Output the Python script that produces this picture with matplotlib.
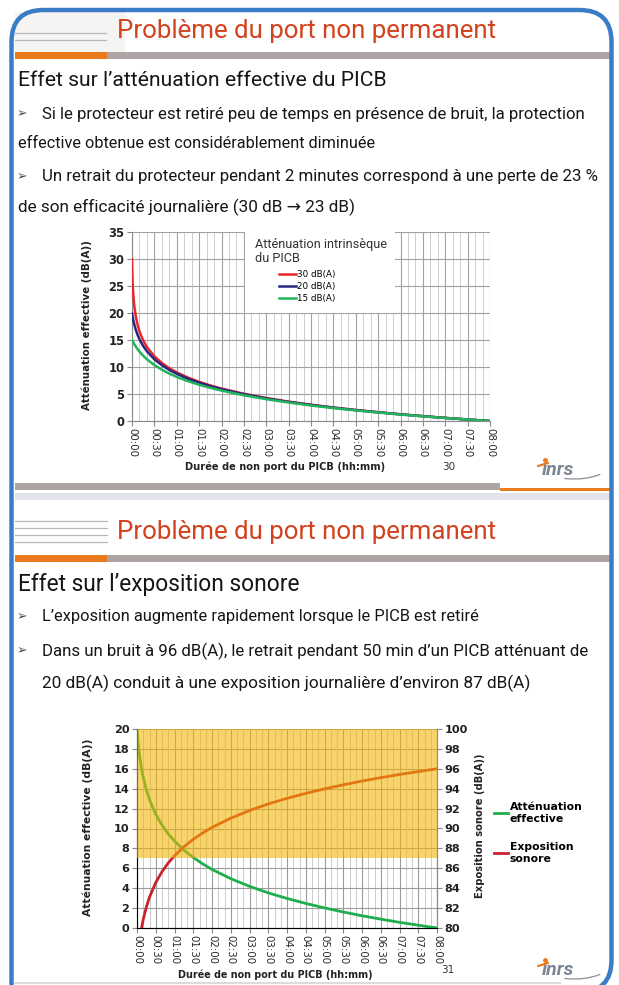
import matplotlib
matplotlib.use('Agg')
import matplotlib.pyplot as plt
from matplotlib.patches import Rectangle, Arc, PathPatch
from matplotlib.path import Path

# ---------------- data ----------------
minutes = [0, 0.5, 1, 2, 3, 5, 7.5, 10, 15, 20, 30, 40, 50, 60, 75, 90, 105, 120,
           150, 180, 210, 240, 270, 300, 330, 360, 390, 420, 450, 480]
att_30 = [30, 26.90, 25.11, 22.87, 21.40, 19.43, 17.80, 16.61, 14.92, 13.70, 11.98, 10.74,
          9.79, 9.00, 8.04, 7.25, 6.59, 6.01, 5.04, 4.25, 3.58, 3.01, 2.50, 2.04, 1.63,
          1.25, 0.90, 0.58, 0.28, 0]
att_20 = [20, 19.57, 19.19, 18.50, 17.91, 16.92, 15.94, 15.14, 13.88, 12.90, 11.43, 10.34,
          9.46, 8.74, 7.83, 7.09, 6.45, 5.89, 4.96, 4.19, 3.53, 2.97, 2.47, 2.02, 1.61,
          1.23, 0.89, 0.57, 0.28, 0]
att_15 = [15, 14.86, 14.73, 14.48, 14.24, 13.80, 13.30, 12.86, 12.08, 11.43, 10.36, 9.50,
          8.78, 8.16, 7.38, 6.71, 6.14, 5.63, 4.76, 4.04, 3.42, 2.87, 2.39, 1.96, 1.57,
          1.20, 0.87, 0.56, 0.27, 0]
att_eff = [20, 19.57, 19.19, 18.50, 17.91, 16.92, 15.94, 15.14, 13.88, 12.90, 11.43, 10.34,
           9.46, 8.74, 7.83, 7.09, 6.45, 5.89, 4.96, 4.19, 3.53, 2.97, 2.47, 2.02, 1.61,
           1.23, 0.89, 0.57, 0.28, 0]
expo_96 = [76.00, 76.43, 76.81, 77.50, 78.09, 79.08, 80.06, 80.86, 82.12, 83.10, 84.57,
           85.66, 86.54, 87.26, 88.17, 88.91, 89.55, 90.11, 91.04, 91.81, 92.47, 93.03,
           93.53, 93.98, 94.39, 94.77, 95.11, 95.43, 95.72, 96.00]
expo_threshold = 87
labels_1 = ['30 dB(A)', '20 dB(A)', '15 dB(A)']
labels_2 = ['Atténuation\neffective', 'Exposition\nsonore']
time_labels = ['00:00', '00:30', '01:00', '01:30', '02:00', '02:30', '03:00', '03:30',
               '04:00', '04:30', '05:00', '05:30', '06:00', '06:30', '07:00', '07:30', '08:00']
yticks_1 = [0, 5, 10, 15, 20, 25, 30, 35]
yticks_2 = [0, 2, 4, 6, 8, 10, 12, 14, 16, 18, 20]
yticks_2r = [80, 82, 84, 86, 88, 90, 92, 94, 96, 98, 100]
time_ticks = [int(s[:2]) * 60 + int(s[3:]) for s in time_labels]

# ---------------- figure / helpers ----------------
W, H = 619, 985
fig = plt.figure(figsize=(W / 100, H / 100), dpi=100)
fig.patch.set_facecolor('white')
bg = fig.add_axes([0, 0, 1, 1], zorder=0)
bg.set_xlim(0, W)
bg.set_ylim(H, 0)
bg.axis('off')
R = fig.canvas.get_renderer()

BODY = ['Roboto', 'DejaVu Sans']
CH = ['DejaVu Sans']


def rect(l, t, r, b):
    return [l / W, 1 - b / H, (r - l) / W, (b - t) / H]


def fit(t, size, dim='w'):
    bb = t.get_window_extent(R)
    cur = bb.width if dim == 'w' else bb.height
    t.set_fontsize(t.get_fontsize() * size / cur)
    return t


def say(x, y, s, width, **kw):
    kw.setdefault('family', BODY)
    kw.setdefault('color', '#161616')
    t = bg.text(x, y, s, ha='left', va='center', fontsize=12, **kw)
    return fit(t, width)


def arrow(y):
    bg.text(22, y, '\u27a2', family='DejaVu Sans', fontsize=9, color='#4a4a4a',
            ha='center', va='center')


def logo(x, y):
    bg.text(x, y, 'ınrs', family=BODY, fontsize=14, fontweight='bold', style='italic',
            color='#7d8594', ha='left', va='center')
    bg.plot([x - 4, x + 6], [y - 4, y - 7], color='#ea7a1c', lw=1.6, solid_capstyle='round')
    bg.plot([x + 3], [y - 10], marker='o', ms=2.5, color='#ea7a1c')
    bg.add_patch(Arc((x + 32, y - 8), 76, 34, theta1=25, theta2=120,
                     color='#8a8f99', lw=0.9))


# ---------------- slide 1 decoration ----------------
bg.add_patch(Rectangle((15, 12), 110, 40, color='#f6f3f3', lw=0))
for yy in (33, 40):
    bg.plot([15, 106], [yy, yy], color='#b8b8b8', lw=0.9)
bg.add_patch(Rectangle((15, 52), 92, 7, color='#ea7a1c', lw=0))
bg.add_patch(Rectangle((107, 52), 505, 7, color='#aea4a4', lw=0))

say(117, 31, 'Problème du port non permanent', 378, color='#d3421d')
say(18, 81, 'Effet sur l’atténuation effective du PICB', 367)
arrow(114)
say(42, 114, 'Si le protecteur est retiré peu de temps en présence de bruit, la protection', 541)
say(18, 144, 'effective obtenue est considérablement diminuée', 357)
arrow(177)
say(42, 177, 'Un retrait du protecteur pendant 2 minutes correspond à une perte de 23 %', 555)
say(18, 207, 'de son efficacité journalière (30 dB \u2192 23 dB)', 337)

# slide 1 footer
bg.add_patch(Rectangle((15, 483), 485, 7, color='#aea4a4', lw=0))
bg.add_patch(Rectangle((500, 488), 112, 3, color='#ea7a1c', lw=0))
bg.add_patch(Rectangle((15, 493), 597, 7, color='#e3e3ea', lw=0))
bg.text(449, 467, '30', family=CH, fontsize=7.5, color='#333333', ha='center', va='center')
logo(542, 470)

# ---------------- slide 2 decoration ----------------
for yy in (521, 528, 535, 542):
    bg.plot([15, 107], [yy, yy], color='#b8b8b8', lw=0.9)
bg.add_patch(Rectangle((15, 555), 92, 7, color='#ea7a1c', lw=0))
bg.add_patch(Rectangle((107, 555), 505, 7, color='#aea4a4', lw=0))

say(117, 532, 'Problème du port non permanent', 378, color='#d3421d')
say(18, 585, 'Effet sur l’exposition sonore', 282)
arrow(617)
say(42, 617, 'L’exposition augmente rapidement lorsque le PICB est retiré', 435)
arrow(651)
say(42, 651, 'Dans un bruit à 96 dB(A), le retrait pendant 50 min d’un PICB atténuant de', 547)
say(42, 683, '20 dB(A) conduit à une exposition journalière d’environ 87 dB(A)', 488)
bg.text(448, 970, '31', family=CH, fontsize=7.5, color='#333333', ha='center', va='center')
logo(542, 970)
bg.plot([15, 560], [983, 983], color='#d6d6d6', lw=1.2)

# ---------------- chart 1 ----------------
ax1 = fig.add_axes(rect(132, 232, 490, 421), zorder=2)
ax1.set_facecolor('none')
for vals, col, lab in zip([att_30, att_20, att_15], ['#e8262b', '#27277f', '#22b45a'], labels_1):
    ax1.plot(minutes, vals, color=col, lw=1.8, label=lab, zorder=3)
ax1.set_xlim(0, 480)
ax1.set_ylim(0, 35)
ax1.set_xticks(time_ticks)
ax1.set_xticklabels(time_labels, rotation=270, ha='center', va='top',
                    fontsize=7.4, color='#2a2a2a', family=CH)
ax1.set_xticks(range(0, 481, 10), minor=True)
ax1.set_yticks(yticks_1)
ax1.set_yticklabels([str(v) for v in yticks_1], fontsize=8.3, fontweight='bold',
                    color='#222222', family=CH)
ax1.tick_params(axis='both', which='major', length=3.5, width=0.8, color='#8a8a8a', pad=2)
ax1.tick_params(axis='x', which='major', pad=1.5)
ax1.tick_params(axis='x', which='minor', length=0)
ax1.set_axisbelow(True)
ax1.grid(True, which='major', color='#a2a2a2', lw=0.8)
ax1.grid(True, which='minor', axis='x', color='#c6c6c6', lw=0.6)
for s in ('top', 'right'):
    ax1.spines[s].set_visible(False)
for s in ('left', 'bottom'):
    ax1.spines[s].set_color('#8a8a8a')
    ax1.spines[s].set_linewidth(0.8)
ax1.add_patch(Rectangle(((245 - 132) / 358, (421 - 313) / 189), 150 / 358, 1 - (421 - 313) / 189,
                        transform=ax1.transAxes, facecolor='white', edgecolor='none', zorder=2.5))
t = ax1.text((255 - 132) / 358, (421 - 238) / 189, 'Atténuation intrinsèque\ndu PICB',
             transform=ax1.transAxes, ha='left', va='top', fontsize=8.5, color='#333333',
             family=BODY, zorder=4, linespacing=1.1)
fit(t, 130)
leg1 = ax1.legend(loc='upper left', bbox_to_anchor=((279 - 132) / 358, (421 - 270) / 189),
                  frameon=False, prop={'family': CH, 'size': 6.3}, handlelength=1.9,
                  handletextpad=0.2, labelspacing=0.35, borderpad=0, borderaxespad=0)
leg1.set_zorder(5)
ax1.set_ylabel('Atténuation effective (dB(A))', fontweight='bold', family=CH, color='#222222')
ax1.yaxis.set_label_coords((87 - 132) / 358, (421 - 325) / 189)
ax1.yaxis.label.set_va('center')
fit(ax1.yaxis.label, 170, 'h')
ax1.set_xlabel('Durée de non port du PICB (hh:mm)', fontweight='bold', family=CH, color='#222222')
ax1.xaxis.set_label_coords((285.5 - 132) / 358, (421 - 467) / 189)
ax1.xaxis.label.set_va('center')
fit(ax1.xaxis.label, 199)

# ---------------- chart 2 ----------------
ax2 = fig.add_axes(rect(137, 729, 437, 928), zorder=2)
ax2.set_facecolor('none')
g, = ax2.plot(minutes, att_eff, color='#1fae4c', lw=2, label=labels_2[0], zorder=3)
ax2.set_xlim(0, 480)
ax2.set_ylim(0, 20)
ax2.set_xticks(time_ticks)
ax2.set_xticklabels(time_labels, rotation=270, ha='center', va='top',
                    fontsize=7.4, color='#2a2a2a', family=CH)
ax2.set_xticks(range(0, 481, 10), minor=True)
ax2.set_yticks(yticks_2)
ax2.set_yticklabels([str(v) for v in yticks_2], fontsize=8.1, fontweight='bold',
                    color='#222222', family=CH)
ax2.tick_params(axis='both', which='major', length=3.5, width=0.8, color='#8a8a8a', pad=2)
ax2.tick_params(axis='x', which='major', pad=1.5)
ax2.tick_params(axis='x', which='minor', length=0)
ax2.set_axisbelow(True)
ax2.grid(True, which='major', color='#9c9c9c', lw=0.8)
ax2.grid(True, which='minor', axis='x', color='#c4c4c4', lw=0.6)
ax2.spines['top'].set_visible(False)
for s in ('left', 'bottom', 'right'):
    ax2.spines[s].set_color('#8a8a8a')
    ax2.spines[s].set_linewidth(0.8)

ax2r = ax2.twinx()
r, = ax2r.plot(minutes, expo_96, color='#c8232b', lw=2, label=labels_2[1], zorder=3)
ax2r.set_ylim(80, 100)
ax2r.set_yticks(yticks_2r)
ax2r.set_yticklabels([str(v) for v in yticks_2r], fontsize=8.1, fontweight='bold',
                     color='#222222', family=CH)
ax2r.tick_params(axis='y', length=3.5, width=0.8, color='#8a8a8a', pad=2)
ax2r.spines['top'].set_visible(False)
ax2r.spines['right'].set_color('#8a8a8a')
ax2r.spines['right'].set_linewidth(0.8)
ax2r.axhspan(expo_threshold, 100, facecolor='#f4b400', alpha=0.58, lw=0, zorder=5)

ax2.set_ylabel('Atténuation effective (dB(A))', fontweight='bold', family=CH, color='#222222')
ax2.yaxis.set_label_coords((88 - 137) / 300, (928 - 827) / 199)
ax2.yaxis.label.set_va('center')
fit(ax2.yaxis.label, 177, 'h')
ax2r.set_ylabel('Exposition sonore (dB(A))', fontweight='bold', family=CH, color='#222222',
                rotation=90)
ax2r.yaxis.set_label_coords((480 - 137) / 300, (928 - 826) / 199)
ax2r.yaxis.label.set_va('center')
fit(ax2r.yaxis.label, 146, 'h')
ax2.set_xlabel('Durée de non port du PICB (hh:mm)', fontweight='bold', family=CH, color='#222222')
ax2.xaxis.set_label_coords((275 - 137) / 300, (928 - 975) / 199)
ax2.xaxis.label.set_va('center')
fit(ax2.xaxis.label, 194)

fig.legend(handles=[g, r], labels=labels_2, loc='upper left',
           bbox_to_anchor=(494 / W, 1 - 802 / H), frameon=False,
           prop={'family': CH, 'weight': 'bold', 'size': 7.8}, handlelength=1.3,
           handletextpad=0.15, labelspacing=1.7, borderpad=0, borderaxespad=0)

# ---------------- blue frame (open at the bottom-left, as in the picture) ----------------
L, T, Rr, B, rad = 11.5, 10, 611.5, 992, 32
verts = [(L, 1000), (L, T + rad), (L, T), (L + rad, T), (Rr - rad, T), (Rr, T), (Rr, T + rad),
         (Rr, B - rad), (Rr, B), (Rr - rad, B)]
codes = [Path.MOVETO, Path.LINETO, Path.CURVE3, Path.CURVE3, Path.LINETO, Path.CURVE3,
         Path.CURVE3, Path.LINETO, Path.CURVE3, Path.CURVE3]
bg.add_patch(PathPatch(Path(verts, codes), fill=False, ec='#3b7cc7', lw=3.2, zorder=10,
                       capstyle='butt'))

fig.savefig('out.png', dpi=100, facecolor='white')
